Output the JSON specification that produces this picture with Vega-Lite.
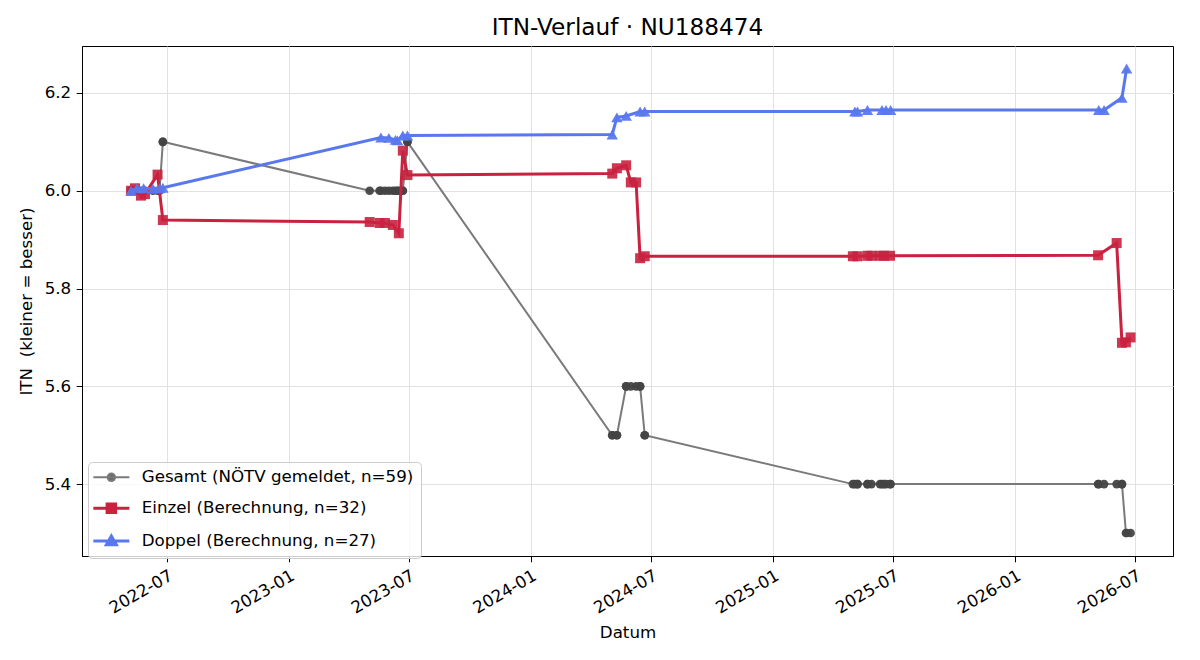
{
  "$schema": "https://vega.github.io/schema/vega-lite/v6.json",
  "width": 1091,
  "height": 510,
  "autosize": {"type": "none"},
  "padding": {"left": 82, "top": 46, "right": 27, "bottom": 104},
  "background": "white",
  "title": {"text": "ITN-Verlauf · NU188474", "fontSize": 23.2, "fontWeight": "normal", "font": "DejaVu Sans", "color": "black", "offset": 6, "anchor": "middle"},
  "config": {
    "view": {"stroke": "black", "strokeWidth": 1},
    "font": "DejaVu Sans",
    "axis": {"labelFont": "DejaVu Sans", "labelFontSize": 16.7, "labelColor": "black", "titleFont": "DejaVu Sans", "titleFontSize": 16.7, "titleFontWeight": "normal", "titleColor": "black", "tickColor": "black", "tickSize": 5.8, "domainColor": "black", "gridColor": "#e2e2e2", "gridWidth": 1, "labelPadding": 5.5}
  },
  "data": {"values": [
    {"s":"Gesamt","d":"2022-05-08","v":6.0},{"s":"Gesamt","d":"2022-05-08","v":6.0},{"s":"Gesamt","d":"2022-05-14","v":6.0},{"s":"Gesamt","d":"2022-05-17","v":6.0},{"s":"Gesamt","d":"2022-05-23","v":6.0},{"s":"Gesamt","d":"2022-05-27","v":6.0},{"s":"Gesamt","d":"2022-05-29","v":6.0},{"s":"Gesamt","d":"2022-06-10","v":6.0},{"s":"Gesamt","d":"2022-06-17","v":6.0},{"s":"Gesamt","d":"2022-06-20","v":6.0},{"s":"Gesamt","d":"2022-06-25","v":6.1},{"s":"Gesamt","d":"2022-06-25","v":6.1},
    {"s":"Gesamt","d":"2023-05-03","v":6.0},{"s":"Gesamt","d":"2023-05-18","v":6.0},{"s":"Gesamt","d":"2023-05-20","v":6.0},{"s":"Gesamt","d":"2023-05-26","v":6.0},{"s":"Gesamt","d":"2023-06-01","v":6.0},{"s":"Gesamt","d":"2023-06-07","v":6.0},{"s":"Gesamt","d":"2023-06-11","v":6.0},{"s":"Gesamt","d":"2023-06-14","v":6.0},{"s":"Gesamt","d":"2023-06-16","v":6.0},{"s":"Gesamt","d":"2023-06-22","v":6.0},{"s":"Gesamt","d":"2023-06-22","v":6.0},{"s":"Gesamt","d":"2023-06-29","v":6.1},{"s":"Gesamt","d":"2023-06-29","v":6.1},
    {"s":"Gesamt","d":"2024-05-03","v":5.5},{"s":"Gesamt","d":"2024-05-03","v":5.5},{"s":"Gesamt","d":"2024-05-10","v":5.5},{"s":"Gesamt","d":"2024-05-10","v":5.5},{"s":"Gesamt","d":"2024-05-24","v":5.6},{"s":"Gesamt","d":"2024-05-24","v":5.6},{"s":"Gesamt","d":"2024-05-31","v":5.6},{"s":"Gesamt","d":"2024-06-08","v":5.6},{"s":"Gesamt","d":"2024-06-14","v":5.6},{"s":"Gesamt","d":"2024-06-14","v":5.6},{"s":"Gesamt","d":"2024-06-21","v":5.5},{"s":"Gesamt","d":"2024-06-21","v":5.5},
    {"s":"Gesamt","d":"2025-05-01","v":5.4},{"s":"Gesamt","d":"2025-05-04","v":5.4},{"s":"Gesamt","d":"2025-05-08","v":5.4},{"s":"Gesamt","d":"2025-05-08","v":5.4},{"s":"Gesamt","d":"2025-05-23","v":5.4},{"s":"Gesamt","d":"2025-05-23","v":5.4},{"s":"Gesamt","d":"2025-05-29","v":5.4},{"s":"Gesamt","d":"2025-06-11","v":5.4},{"s":"Gesamt","d":"2025-06-14","v":5.4},{"s":"Gesamt","d":"2025-06-17","v":5.4},{"s":"Gesamt","d":"2025-06-20","v":5.4},{"s":"Gesamt","d":"2025-06-26","v":5.4},{"s":"Gesamt","d":"2025-06-27","v":5.4},
    {"s":"Gesamt","d":"2026-05-06","v":5.4},{"s":"Gesamt","d":"2026-05-07","v":5.4},{"s":"Gesamt","d":"2026-05-15","v":5.4},{"s":"Gesamt","d":"2026-06-03","v":5.4},{"s":"Gesamt","d":"2026-06-11","v":5.4},{"s":"Gesamt","d":"2026-06-11","v":5.4},{"s":"Gesamt","d":"2026-06-17","v":5.3},{"s":"Gesamt","d":"2026-06-18","v":5.3},{"s":"Gesamt","d":"2026-06-24","v":5.3},
    {"s":"Einzel","d":"2022-05-08","v":6.000},{"s":"Einzel","d":"2022-05-14","v":6.005},{"s":"Einzel","d":"2022-05-23","v":5.990},{"s":"Einzel","d":"2022-05-29","v":5.993},{"s":"Einzel","d":"2022-06-17","v":6.033},{"s":"Einzel","d":"2022-06-25","v":5.940},
    {"s":"Einzel","d":"2023-05-03","v":5.936},{"s":"Einzel","d":"2023-05-18","v":5.934},{"s":"Einzel","d":"2023-05-26","v":5.934},{"s":"Einzel","d":"2023-06-07","v":5.930},{"s":"Einzel","d":"2023-06-16","v":5.913},{"s":"Einzel","d":"2023-06-22","v":6.082},{"s":"Einzel","d":"2023-06-29","v":6.032},
    {"s":"Einzel","d":"2024-05-03","v":6.035},{"s":"Einzel","d":"2024-05-10","v":6.046},{"s":"Einzel","d":"2024-05-24","v":6.052},{"s":"Einzel","d":"2024-05-31","v":6.017},{"s":"Einzel","d":"2024-06-08","v":6.017},{"s":"Einzel","d":"2024-06-14","v":5.862},{"s":"Einzel","d":"2024-06-21","v":5.866},
    {"s":"Einzel","d":"2025-05-01","v":5.866},{"s":"Einzel","d":"2025-05-08","v":5.866},{"s":"Einzel","d":"2025-05-23","v":5.867},{"s":"Einzel","d":"2025-05-29","v":5.867},{"s":"Einzel","d":"2025-06-11","v":5.867},{"s":"Einzel","d":"2025-06-17","v":5.867},{"s":"Einzel","d":"2025-06-26","v":5.867},
    {"s":"Einzel","d":"2026-05-06","v":5.868},{"s":"Einzel","d":"2026-06-03","v":5.893},{"s":"Einzel","d":"2026-06-11","v":5.689},{"s":"Einzel","d":"2026-06-17","v":5.690},{"s":"Einzel","d":"2026-06-24","v":5.700},
    {"s":"Doppel","d":"2022-05-08","v":6.000},{"s":"Doppel","d":"2022-05-17","v":6.005},{"s":"Doppel","d":"2022-05-27","v":6.005},{"s":"Doppel","d":"2022-06-10","v":6.004},{"s":"Doppel","d":"2022-06-20","v":6.005},{"s":"Doppel","d":"2022-06-25","v":6.006},
    {"s":"Doppel","d":"2023-05-20","v":6.109},{"s":"Doppel","d":"2023-06-01","v":6.108},{"s":"Doppel","d":"2023-06-11","v":6.104},{"s":"Doppel","d":"2023-06-14","v":6.103},{"s":"Doppel","d":"2023-06-22","v":6.113},{"s":"Doppel","d":"2023-06-29","v":6.113},
    {"s":"Doppel","d":"2024-05-03","v":6.115},{"s":"Doppel","d":"2024-05-10","v":6.150},{"s":"Doppel","d":"2024-05-24","v":6.153},{"s":"Doppel","d":"2024-06-14","v":6.162},{"s":"Doppel","d":"2024-06-21","v":6.162},
    {"s":"Doppel","d":"2025-05-04","v":6.162},{"s":"Doppel","d":"2025-05-08","v":6.162},{"s":"Doppel","d":"2025-05-23","v":6.165},{"s":"Doppel","d":"2025-06-14","v":6.165},{"s":"Doppel","d":"2025-06-20","v":6.165},{"s":"Doppel","d":"2025-06-27","v":6.165},
    {"s":"Doppel","d":"2026-05-07","v":6.165},{"s":"Doppel","d":"2026-05-15","v":6.165},{"s":"Doppel","d":"2026-06-11","v":6.190},{"s":"Doppel","d":"2026-06-18","v":6.250}
  ]},
  "encoding": {
    "x": {"field": "d", "type": "temporal", "title": "Datum",
      "scale": {"type": "utc", "domain": [{"year": 2022, "month": 2, "date": 23, "utc": true}, {"year": 2026, "month": 8, "date": 27, "utc": true}]},
      "axis": {"values": [
        {"year": 2022, "month": 7, "date": 1, "utc": true},
        {"year": 2023, "month": 1, "date": 1, "utc": true},
        {"year": 2023, "month": 7, "date": 1, "utc": true},
        {"year": 2024, "month": 1, "date": 1, "utc": true},
        {"year": 2024, "month": 7, "date": 1, "utc": true},
        {"year": 2025, "month": 1, "date": 1, "utc": true},
        {"year": 2025, "month": 7, "date": 1, "utc": true},
        {"year": 2026, "month": 1, "date": 1, "utc": true},
        {"year": 2026, "month": 7, "date": 1, "utc": true}
      ], "labelExpr": "utcFormat(datum.value, '%Y-%m')", "labelAngle": -30, "labelAlign": "right", "labelBaseline": "top", "titlePadding": 8, "grid": true}},
    "y": {"field": "v", "type": "quantitative", "title": "ITN\u00a0 (kleiner = besser)",
      "scale": {"domain": [5.253, 6.296], "nice": false, "zero": false},
      "axis": {"values": [5.4, 5.6, 5.8, 6.0, 6.2], "format": ".1f", "titlePadding": 9, "grid": true}}
  },
  "layer": [
    {"transform": [{"filter": "datum.s == 'Gesamt'"}],
     "mark": {"type": "line", "strokeWidth": 2},
     "encoding": {"color": {"field": "s", "type": "nominal",
       "scale": {"domain": ["Gesamt", "Einzel", "Doppel"], "range": ["#7a7a7a", "#c9213f", "#5a78ee"]},
       "legend": {"orient": "none", "legendX": 6, "legendY": 416, "title": null,
         "labelExpr": "datum.value == 'Gesamt' ? 'Gesamt (NÖTV gemeldet, n=59)' : datum.value == 'Einzel' ? 'Einzel (Berechnung, n=32)' : 'Doppel (Berechnung, n=27)'",
         "labelFont": "DejaVu Sans", "labelFontSize": 16.7, "labelColor": "black", "labelLimit": 600,
         "symbolSize": 100, "symbolOffset": 8, "labelOffset": 22, "rowPadding": 10.8,
         "strokeColor": "#cccccc", "fillColor": "rgba(255,255,255,0.8)", "cornerRadius": 4, "padding": 7,
         "encode": {"symbols": {"update": {
           "shape": {"signal": "datum.value == 'Gesamt' ? 'M-3.6,0H3.6M-0.75,0A0.75,0.75,0,1,0,0.75,0A0.75,0.75,0,1,0,-0.75,0Z' : datum.value == 'Einzel' ? 'M-3.6,0H3.6M-0.85,-0.85H0.85V0.85H-0.85Z' : 'M-3.6,0H3.6M0,-1L1,0.75H-1Z'"},
           "fill": {"signal": "datum.value == 'Gesamt' ? '#6a6a6a' : datum.value == 'Einzel' ? '#c9213f' : '#5a78ee'"},
           "stroke": {"signal": "datum.value == 'Gesamt' ? '#767676' : datum.value == 'Einzel' ? '#c9213f' : '#5a78ee'"},
           "strokeWidth": {"signal": "datum.value == 'Gesamt' ? 2 : 3"},
           "opacity": {"value": 1}
         }}}
       }}}},
    {"transform": [{"filter": "datum.s == 'Gesamt'"}],
     "mark": {"type": "point", "filled": true, "shape": "circle", "size": 75, "color": "#454545", "opacity": 0.95}},
    {"transform": [{"filter": "datum.s == 'Einzel'"}],
     "mark": {"type": "line", "strokeWidth": 3, "color": "#c9213f"}},
    {"transform": [{"filter": "datum.s == 'Einzel'"}],
     "mark": {"type": "point", "filled": true, "shape": "square", "size": 100, "color": "#c9213f", "opacity": 0.9}},
    {"transform": [{"filter": "datum.s == 'Doppel'"}],
     "mark": {"type": "line", "strokeWidth": 3, "color": "#5a78ee"}},
    {"transform": [{"filter": "datum.s == 'Doppel'"}],
     "mark": {"type": "point", "filled": true, "shape": "triangle-up", "size": 130, "color": "#5a78ee", "opacity": 0.95}}
  ]
}
